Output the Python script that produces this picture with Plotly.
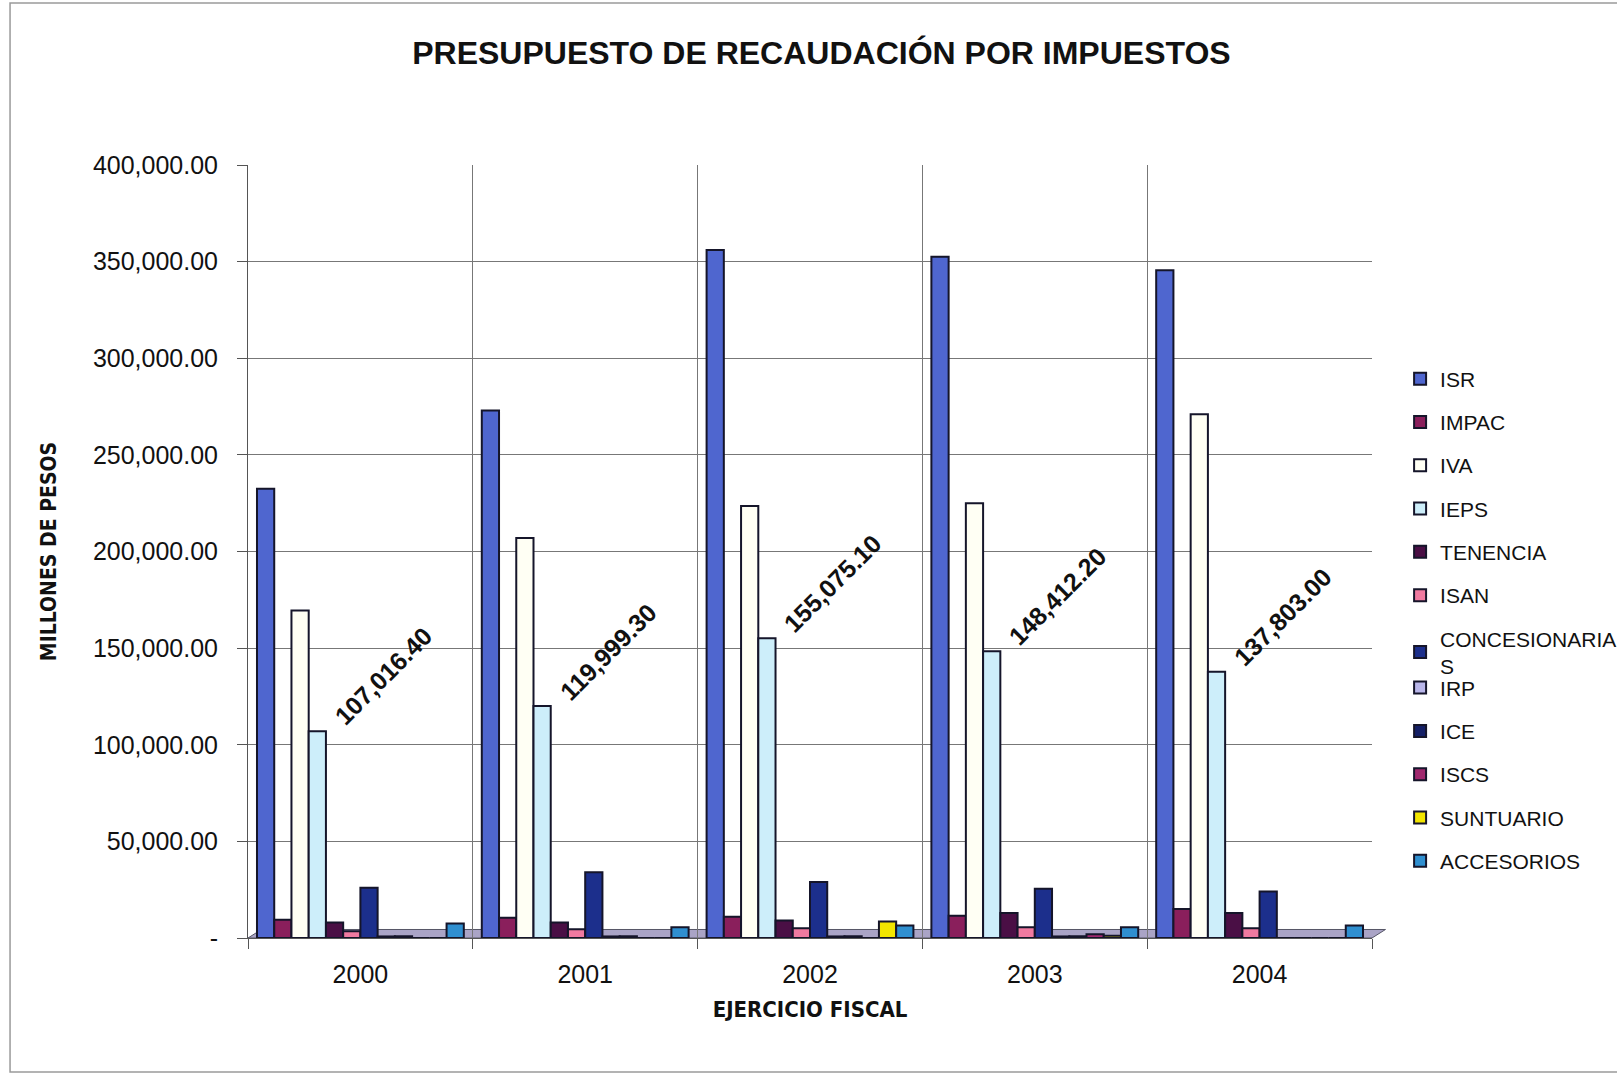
import plotly.graph_objects as go

years = ["2000", "2001", "2002", "2003", "2004"]

series_names = ["ISR", "IMPAC", "IVA", "IEPS", "TENENCIA", "ISAN",
                "CONCESIONARIA<br>S", "IRP", "ICE", "ISCS", "SUNTUARIO", "ACCESORIOS"]

isr = [232500, 273000, 356000, 352500, 345500]
impac = [9500, 10500, 11000, 11500, 15000]
iva = [169500, 207000, 223500, 225000, 271000]
ieps = [107016.40, 119999.30, 155075.10, 148412.20, 137803.00]
tenencia = [8000, 8000, 9000, 13000, 13000]
isan = [3500, 4500, 5000, 5500, 5000]
concesionarias = [26000, 34000, 29000, 25500, 24000]
irp = [800, 800, 800, 800, 0]
ice = [900, 900, 900, 900, 0]
iscs = [0, 0, 0, 2000, 0]
suntuario = [0, 0, 8500, 1200, 0]
accesorios = [7500, 5500, 6500, 5500, 6500]

ieps_labels = ["107,016.40", "119,999.30", "155,075.10", "148,412.20", "137,803.00"]

y_tick_vals = [0, 50000, 100000, 150000, 200000, 250000, 300000, 350000, 400000]
y_tick_text = ["-", "50,000.00", "100,000.00", "150,000.00", "200,000.00",
               "250,000.00", "300,000.00", "350,000.00", "400,000.00"]

values = [isr, impac, iva, ieps, tenencia, isan, concesionarias, irp, ice, iscs, suntuario, accesorios]
colors = ["#4f66cf", "#8a1f5c", "#fffff4", "#cdeefa", "#4a0f45", "#f07aa0",
          "#1c2f8c", "#b9b6ea", "#141f66", "#a0286e", "#f2e500", "#2f8fd0"]
# first seven entries in the upper legend block, the rest in the lower one
legend_ids = ["legend"] * 7 + ["legend2"] * 5

FONT = "Liberation Sans, Arial, sans-serif"
NARROW = "Liberation Sans Narrow, Arial Narrow, DejaVu Sans Condensed, Liberation Sans, Arial, sans-serif"

fig = go.Figure()

# 3D-like floor strip under the bars
fig.add_shape(type="path", xref="paper", yref="paper",
              path="M 0 0 L 0.012 0.011 L 1.012 0.011 L 1 0 Z",
              fillcolor="#aaa4c6", line=dict(color="#555566", width=1), layer="below")

for name, vals, col, lg in zip(series_names, values, colors, legend_ids):
    fig.add_trace(go.Bar(
        x=years, y=vals, name=name, legendgroup=name, legend=lg,
        marker=dict(color=col, line=dict(color="#15152a", width=2)),
    ))

# category axes take the category index for annotation positions
for idx, (v, lab) in enumerate(zip(ieps, ieps_labels)):
    fig.add_annotation(
        x=idx, y=v, xref="x", yref="y", text="<b>" + lab + "</b>",
        showarrow=False, textangle=-45, xanchor="left", yanchor="bottom",
        xshift=-34, yshift=-2,
        font=dict(family=FONT, size=25, color="#111111"),
    )

# outer chart border
fig.add_shape(type="rect", xref="paper", yref="paper",
              x0=-0.2117, x1=1.225, y0=-0.1734, y1=1.2096,
              line=dict(color="#9a9a9a", width=1.5), fillcolor="rgba(0,0,0,0)", layer="below")

legend_common = dict(xanchor="left", yanchor="top",
                     font=dict(family=FONT, size=21, color="#111111"),
                     tracegroupgap=13, bgcolor="rgba(0,0,0,0)")

fig.update_layout(
    width=1617, height=1076,
    margin=dict(l=248, r=245, t=165, b=138, autoexpand=False),
    paper_bgcolor="white", plot_bgcolor="white",
    barmode="group", bargap=0.08, bargroupgap=0,
    title=dict(text="<b>PRESUPUESTO DE RECAUDACIÓN POR IMPUESTOS</b>",
               x=0.508, xanchor="center", y=0.951, yanchor="middle",
               font=dict(family=FONT, size=32, color="#111111")),
    font=dict(family=FONT, color="#111111"),
    legend=dict(x=1.025, y=0.7497, **legend_common),
    legend2=dict(x=1.025, y=0.350, **legend_common),
    xaxis=dict(
        type="category", range=[-0.5, 4.5], tickson="boundaries", ticks="outside", ticklen=10,
        tickcolor="#555555", showgrid=True, gridcolor="#777777", gridwidth=1,
        showline=True, linecolor="#555555", linewidth=1, tickangle=0,
        ticklabelstandoff=14,
        tickfont=dict(family=FONT, size=25, color="#111111"),
        title=dict(text="<b>EJERCICIO FISCAL</b>", standoff=14,
                   font=dict(family=NARROW, size=22, color="#111111")),
    ),
    yaxis=dict(
        range=[0, 400000], tickvals=y_tick_vals, ticktext=y_tick_text,
        ticks="outside", ticklen=10, tickcolor="#555555", ticklabelstandoff=14,
        showgrid=True, gridcolor="#777777", gridwidth=1,
        showline=True, linecolor="#555555", linewidth=1, zeroline=False,
        tickfont=dict(family=FONT, size=25, color="#111111"),
        title=dict(text="<b>MILLONES DE PESOS</b>", standoff=30,
                   font=dict(family=NARROW, size=21, color="#111111")),
    ),
)

fig.write_html("out.html")
